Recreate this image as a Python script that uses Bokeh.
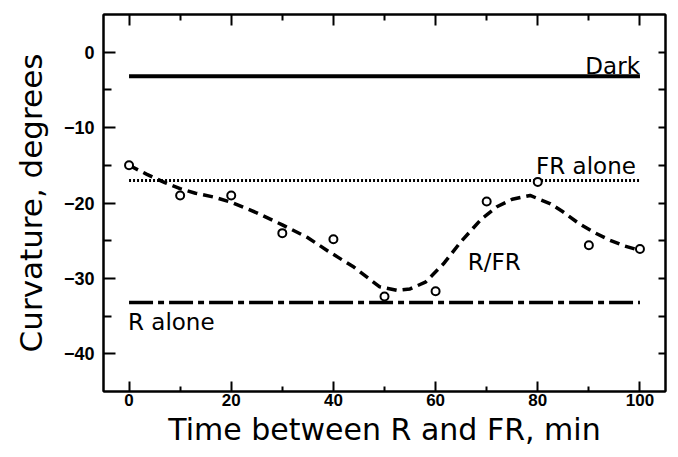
from bokeh.plotting import figure
from bokeh.models import Range1d, LinearAxis, FixedTicker, CustomLabelingPolicy
from bokeh.core.properties import value
from bokeh.embed import file_html
from bokeh.resources import INLINE

# ---- data ----
time_min = [0, 10, 20, 30, 40, 50, 60, 70, 80, 90, 100]
curvature_obs = [-15.0, -19.0, -19.0, -24.0, -24.8, -32.4, -31.7, -19.8, -17.2, -25.6, -26.1]

fit_x = [0, 3.5, 7, 10, 13, 16.5, 20, 25, 30, 35, 39, 44, 49, 52.5, 55, 58, 61.5, 65, 69, 72, 75, 78.5, 82.5, 85, 88, 91, 94, 97, 100]
fit_y = [-15.0, -16.2, -17.3, -18.1, -18.7, -19.2, -19.9, -21.3, -22.9, -24.6, -26.4, -28.5, -31.1, -31.6, -31.4, -30.5, -28.1, -25.1, -22.1, -20.5, -19.5, -19.0, -20.1, -21.2, -22.7, -23.9, -24.9, -25.7, -26.3]

ref_x = [0, 100]
dark_level = -3.2
fr_alone_level = -17.0
r_alone_level = -33.2

x_major = [0, 20, 40, 60, 80, 100]
x_minor = [10, 30, 50, 70, 90]
x_tick_labels = ["0", "20", "40", "60", "80", "100"]
y_major = [-40, -30, -20, -10, 0]
y_minor = [-35, -25, -15, -5]
y_tick_labels = ["\u221240", "\u221230", "\u221220", "\u221210", "0"]

TITLE_FONT = "DejaVu Sans"
TICK_FONT = "Liberation Sans"

p = figure(width=670, height=449, output_backend="svg", toolbar_location=None,
           x_range=Range1d(-5, 105), y_range=Range1d(-45, 5),
           min_border_left=103, min_border_right=3, min_border_top=14, min_border_bottom=57,
           background_fill_color="white", border_fill_color="white")
p.grid.visible = False
p.outline_line_color = "black"
p.outline_line_width = 2

def style(ax, maj_in, min_in):
    ax.axis_line_color = "black"
    ax.axis_line_width = 2
    ax.major_tick_in = maj_in
    ax.major_tick_out = 0
    ax.minor_tick_in = min_in
    ax.minor_tick_out = 0
    ax.major_tick_line_width = 2
    ax.minor_tick_line_width = 2
    ax.major_tick_line_color = "black"
    ax.minor_tick_line_color = "black"

no_labels = CustomLabelingPolicy(code="""
    const all = Array.from(indices)
    for (const i of all) indices.unset(i)
    return indices
""")

xa = p.xaxis[0]
xa.ticker = FixedTicker(ticks=x_major, minor_ticks=x_minor)
style(xa, 10, 5)
xa.major_label_overrides = dict(zip(x_major, x_tick_labels))
xa.major_label_text_font = TICK_FONT
xa.major_label_text_font_style = "bold"
xa.major_label_text_font_size = "17px"
xa.major_label_text_color = "black"
xa.major_label_standoff = 2
xa.axis_label = "Time between R and FR, min"
xa.axis_label_text_font = TITLE_FONT
xa.axis_label_text_font_style = "normal"
xa.axis_label_text_font_size = "30px"
xa.axis_label_text_color = "black"
xa.axis_label_standoff = 3

ya = p.yaxis[0]
ya.ticker = FixedTicker(ticks=y_major, minor_ticks=y_minor)
style(ya, 12, 8)
ya.major_label_overrides = dict(zip(y_major, y_tick_labels))
ya.major_label_text_font = TICK_FONT
ya.major_label_text_font_style = "bold"
ya.major_label_text_font_size = "18px"
ya.major_label_text_color = "black"
ya.major_label_standoff = 9
ya.axis_label = "Curvature, degrees"
ya.axis_label_text_font = TITLE_FONT
ya.axis_label_text_font_style = "normal"
ya.axis_label_text_font_size = "31px"
ya.axis_label_text_color = "black"
ya.axis_label_standoff = 12

top = LinearAxis(ticker=FixedTicker(ticks=x_major, minor_ticks=x_minor),
                 major_label_policy=no_labels)
style(top, 11, 6)
top.major_label_text_font_size = "1px"
top.major_label_standoff = 0
p.add_layout(top, "above")

right = LinearAxis(ticker=FixedTicker(ticks=y_major, minor_ticks=y_minor),
                   major_label_policy=no_labels)
style(right, 7, 7)
right.major_label_text_font_size = "1px"
right.major_label_standoff = 0
p.add_layout(right, "right")

# reference lines
p.line(ref_x, [dark_level] * 2, line_color="black", line_width=4)
p.line(ref_x, [fr_alone_level] * 2, line_color="black", line_width=3, line_dash="2 2")
p.line(ref_x, [r_alone_level] * 2, line_color="black", line_width=3.5, line_dash="24 5 6 5")

# fitted curve
p.line(fit_x, fit_y, line_color="black", line_width=3.5, line_dash="10 6")

# observations
p.scatter(time_min, curvature_obs, marker="circle", size=8, line_color="black",
          line_width=2, fill_color="white")

# labels
lab = dict(text_font=value(TITLE_FONT), text_font_size="23px", text_color="black",
           text_baseline="bottom")
p.text(x=[100], y=[-3.55], text=["Dark"], text_align="right", **lab)
p.text(x=[99.2], y=[-16.85], text=["FR alone"], text_align="right", **lab)
p.text(x=[66.3], y=[-29.55], text=["R/FR"], text_align="left", **lab)
p.text(x=[-0.2], y=[-37.45], text=["R alone"], text_align="left", **lab)

open("out.html", "w").write(file_html(p, INLINE))
